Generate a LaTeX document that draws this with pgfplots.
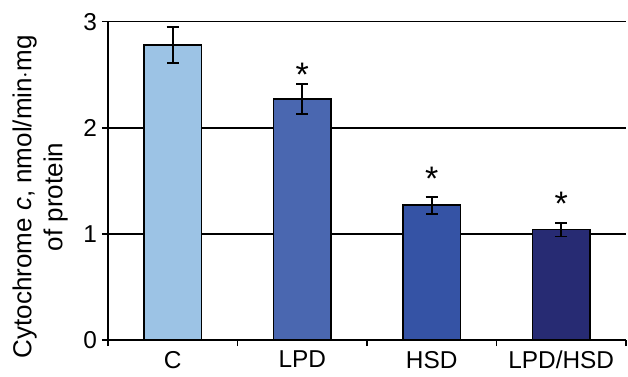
\documentclass[border=0pt]{standalone}
\usepackage{pgfplots}
\pgfplotsset{compat=1.18}
\usepackage{fontspec}
\setmainfont{Liberation Sans}
\definecolor{cC}{HTML}{9CC3E5}
\definecolor{cL}{HTML}{4A67B0}
\definecolor{cH}{HTML}{3553A5}
\definecolor{cLH}{HTML}{272B73}
\begin{document}
\begin{tikzpicture}
\path[use as bounding box] (-54pt,-18pt) rectangle (260pt,170pt);
\begin{axis}[
  at={(0,0)}, anchor=south west,
  scale only axis, width=259pt, height=159.2pt,
  xmin=-0.5, xmax=3.5, ymin=0, ymax=3,
  axis x line*=bottom, axis y line*=left,
  axis line style={black, line width=0.8pt},
  xtick={-0.5,0.5,1.5,2.5,3.5},
  xticklabels={},
  extra x ticks={0,1,2,3},
  extra x tick labels={C,LPD,HSD,LPD/HSD},
  extra x tick style={major tick length=0pt, tick label style={yshift=-2pt}},
  major tick length=3pt,
  xtick align=outside, ytick align=outside,
  ytick={0,1,2,3},
  ymajorgrids, grid style={black, line width=0.8pt},
  tick style={black, line width=0.8pt},
  /pgf/number format/assume math mode=true,
  tick label style={font=\fontsize{12.2}{13}\selectfont},
  yticklabel style={xshift=1pt},
  ylabel={\fontsize{13}{15.5}\selectfont\begin{tabular}{c}Cytochrome \textit{c}, nmol/min$\cdot$mg\\ of protein\end{tabular}},
  ylabel style={yshift=-1pt, xshift=-8pt},
  ybar, bar width=28.7pt, bar shift=0pt,
  clip=false,
]
\addplot[fill=cC, draw=black, line width=0.8pt, error bars/.cd, y dir=both, y explicit, error bar style={line width=0.8pt}, error mark options={rotate=90, mark size=3pt, line width=0.8pt}]
  coordinates {(0,2.78) +- (0,0.17)};
\addplot[fill=cL, draw=black, line width=0.8pt, error bars/.cd, y dir=both, y explicit, error bar style={line width=0.8pt}, error mark options={rotate=90, mark size=3pt, line width=0.8pt}]
  coordinates {(1,2.27) +- (0,0.14)};
\addplot[fill=cH, draw=black, line width=0.8pt, error bars/.cd, y dir=both, y explicit, error bar style={line width=0.8pt}, error mark options={rotate=90, mark size=3pt, line width=0.8pt}]
  coordinates {(2,1.27) +- (0,0.08)};
\addplot[fill=cLH, draw=black, line width=0.8pt, error bars/.cd, y dir=both, y explicit, error bar style={line width=0.8pt}, error mark options={rotate=90, mark size=3pt, line width=0.8pt}]
  coordinates {(3,1.04) +- (0,0.065)};
\addplot[only marks, mark=none, nodes near coords={\fontsize{17}{17}\selectfont *}, nodes near coords align={center}, point meta=explicit symbolic]
  coordinates {(1,2.50) [*] (2,1.52) [*] (3,1.28) [*]};
\end{axis}
\end{tikzpicture}
\end{document}
